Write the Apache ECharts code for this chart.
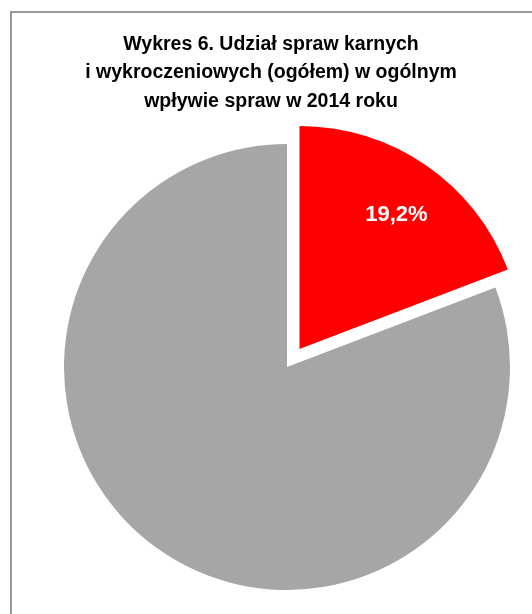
<!DOCTYPE html>
<html>
<head>
<meta charset="utf-8">
<script src="https://cdn.jsdelivr.net/npm/echarts@6/dist/echarts.min.js"></script>
<style>
body{margin:0;background:#fff;}
#wrap{position:relative;width:532px;height:614px;}
#frame{position:absolute;left:10px;top:11px;right:0;bottom:0;border-left:2px solid #999;border-top:2px solid #999;}
#myChart{position:absolute;left:0;top:0;width:532px;height:614px;}
</style>
</head>
<body>
<div id="wrap">
	<div id="frame"></div>
	<div id="myChart"></div>
</div>
<script type="text/javascript">
//dane wykresu
var categories = ['sprawy karne i wykroczeniowe', 'pozostałe sprawy'];
var values = [19.2, 80.8];
var colors = ['#ff0000', '#a6a6a6'];
var titleLines = ['Wykres 6. Udział spraw karnych', 'i wykroczeniowych (ogółem) w ogólnym', 'wpływie spraw w 2014 roku'];

var seriesData = [];
for (var i = 0; i < categories.length; i++)
{
	seriesData.push({
		name: categories[i],
		value: values[i],
		selected: i === 0,
		itemStyle: {color: colors[i]},
		label: {show: i === 0}
	});
}

var option = {
	animation: false,
	title:
	{
		text: titleLines.join('\n'),
		left: 271,
		textAlign: 'center',
		top: 30,
		padding: 0,
		textStyle:
		{
			fontFamily: 'Liberation Sans, Arial, sans-serif',
			fontWeight: 'bold',
			fontSize: 19.5,
			lineHeight: 28.5,
			color: '#000'
		}
	},
	series:
	[
		{
			type: 'pie',
			center: [287, 367],
			radius: 223,
			startAngle: 90,
			clockwise: true,
			selectedMode: 'single',
			selectedOffset: 22,
			emphasis: {disabled: true},
			labelLine: {show: false},
			//etykieta przesunięta bliżej łuku
			labelLayout: function () { return {dx: 32, dy: -40}; },
			label:
			{
				position: 'inside',
				formatter: function (p) { return p.value.toFixed(1).replace('.', ',') + '%'; },
				color: '#fff',
				fontFamily: 'Liberation Sans, Arial, sans-serif',
				fontWeight: 'bold',
				fontSize: 22
			},
			data: seriesData
		}
	]
};
echarts.init(document.getElementById('myChart')).setOption(option);
</script>
</body>
</html>
